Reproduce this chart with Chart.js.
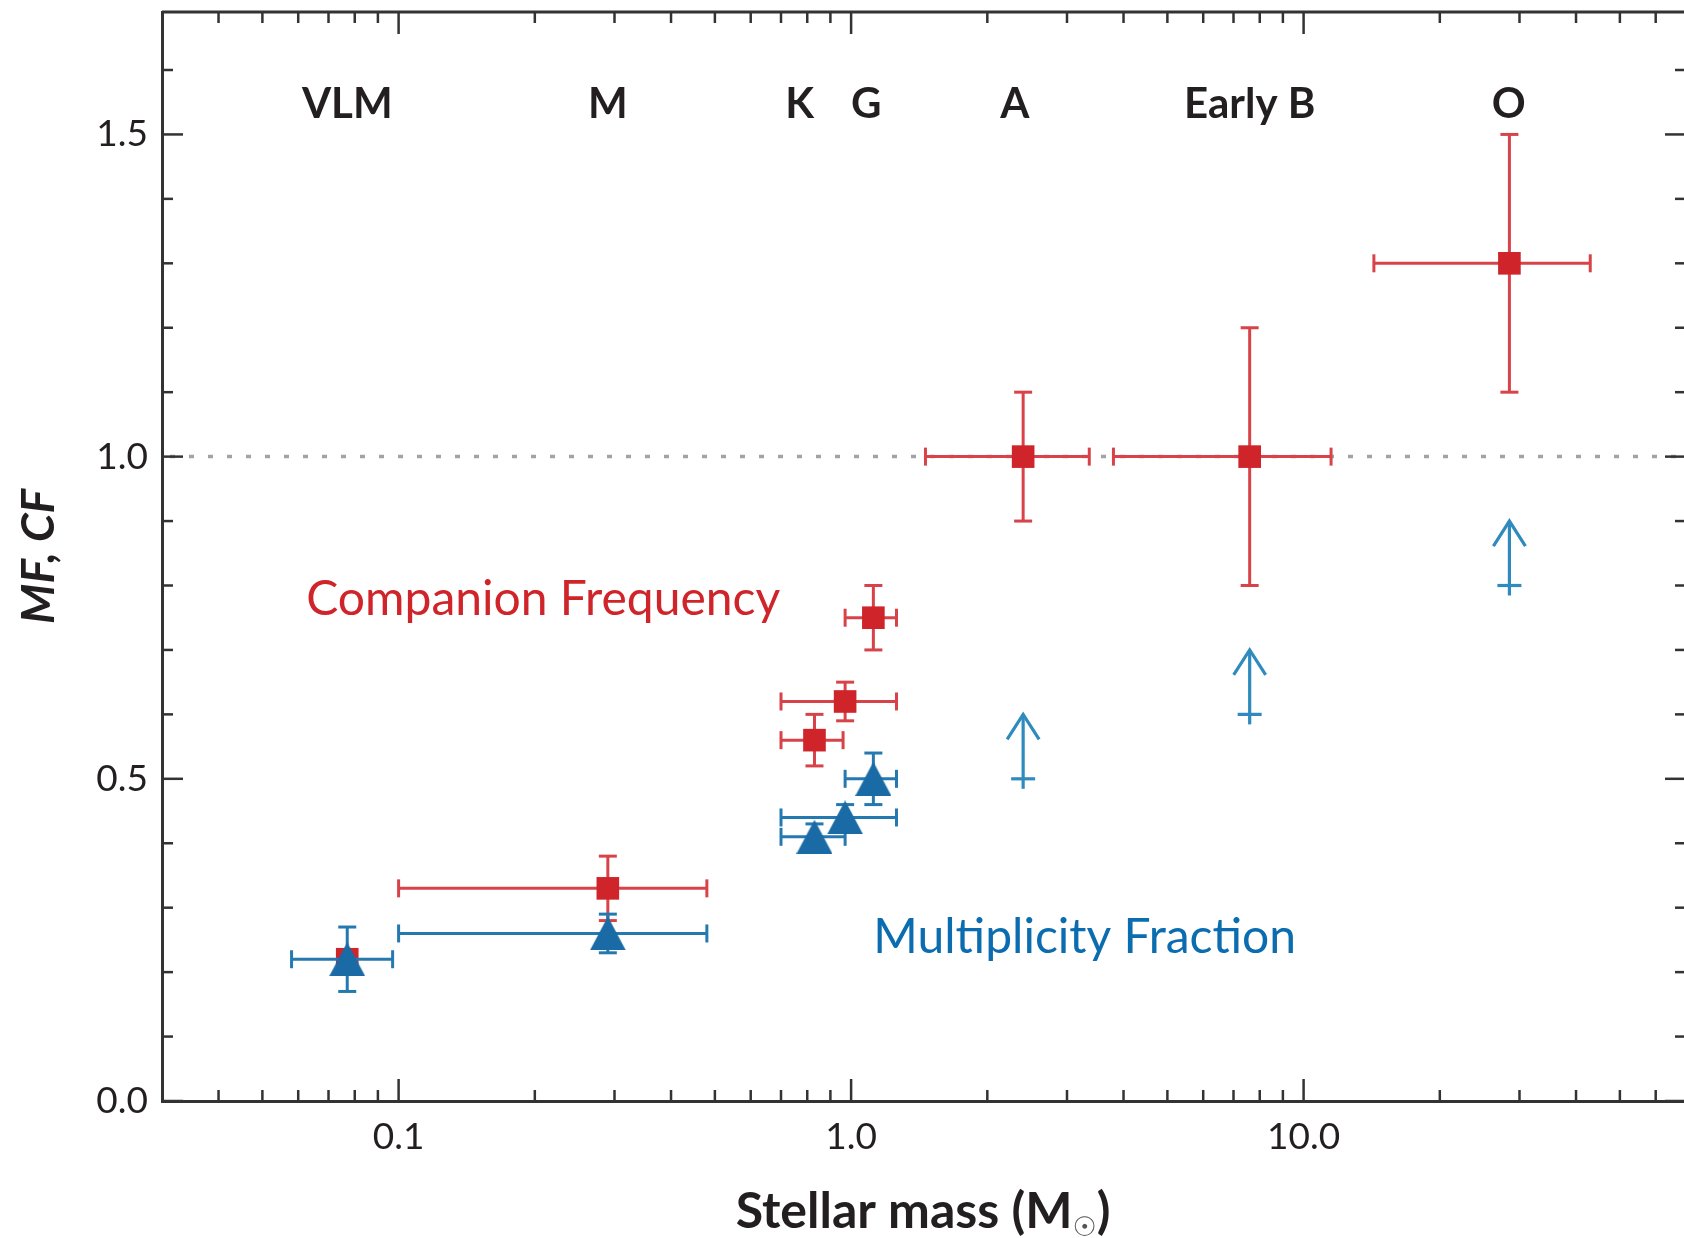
<!DOCTYPE html>
<html>
<head>
<meta charset="utf-8">
<title>Multiplicity vs stellar mass</title>
<script src="https://cdn.jsdelivr.net/npm/chart.js@4.4.1/dist/chart.umd.min.js"></script>
<style>
  html, body { margin: 0; padding: 0; background: #fff; overflow: hidden; }
  #wrap { width: 1684px; height: 1238px; overflow: hidden; }
</style>
</head>
<body>
<div id="wrap"><canvas id="chart" width="1690" height="1238"></canvas></div>
<script>
// Companion frequency (red squares)
const cfMass = [0.077, 0.29, 0.83, 0.97, 1.12, 2.4, 7.6, 28.5];
const cfValue = [0.22, 0.33, 0.56, 0.62, 0.75, 1.0, 1.0, 1.3];
const cfErrY = [null, 0.05, 0.04, 0.03, 0.05, 0.1, 0.2, 0.2];
const cfMassLow = [null, 0.1, 0.7, 0.7, 0.97, 1.46, 3.8, 14.3];
const cfMassHigh = [null, 0.48, 0.96, 1.26, 1.26, 3.36, 11.5, 43];

// Multiplicity fraction (blue triangles)
const mfMass = [0.077, 0.29, 0.83, 0.97, 1.12];
const mfValue = [0.22, 0.26, 0.41, 0.44, 0.50];
const mfErrY = [0.05, 0.03, 0.02, 0.02, 0.04];
const mfMassLow = [0.058, 0.1, 0.7, 0.7, 0.97];
const mfMassHigh = [0.097, 0.48, 0.97, 1.26, 1.26];

// MF lower limits for the massive stars (arrows)
const limMass = [2.4, 7.6, 28.5];
const limValue = [0.5, 0.6, 0.8];

// spectral type labels along the top
const typeLabels = ['VLM', 'M', 'K', 'G', 'A', 'Early B', 'O'];
const typeMass = [0.077, 0.29, 0.77, 1.08, 2.3, 7.6, 28.4];
const typeLabelY = 1.525;

// series names written in the plot
const seriesNames = ['Companion Frequency', 'Multiplicity Fraction'];
const seriesNameMass = [0.0625, 1.12];
const seriesNameY = [0.754, 0.23];

// axes
const xMajorTicks = [0.1, 1, 10];
const xTickLabels = ['0.1', '1.0', '10.0'];
const xMinorTicks = [0.04, 0.05, 0.06, 0.07, 0.08, 0.09,
  0.2, 0.3, 0.4, 0.5, 0.6, 0.7, 0.8, 0.9,
  2, 3, 4, 5, 6, 7, 8, 9,
  20, 30, 40, 50, 60, 70];
const yMajorTicks = [0, 0.5, 1.0, 1.5];
const yTickLabels = ['0.0', '0.5', '1.0', '1.5'];
const yMinorTicks = [0.1, 0.2, 0.3, 0.4, 0.6, 0.7, 0.8, 0.9,
  1.1, 1.2, 1.3, 1.4, 1.6];

const RED = '#d0242b';
const RED_LINE = '#d8434a';
const BLUE = '#1a6ba5';
const BLUE_LINE = '#2479b0';
const ARROW = '#2f8bbd';
const INK = '#231f20';

Chart.defaults.font.family = 'Lato, "DejaVu Sans", sans-serif';
Chart.defaults.color = INK;

function makeTriangle(w, h, color) {
  const c = document.createElement('canvas');
  c.width = w;
  c.height = h;
  const g = c.getContext('2d');
  g.fillStyle = color;
  g.beginPath();
  g.moveTo(w / 2, 0);
  g.lineTo(w, h);
  g.lineTo(0, h);
  g.closePath();
  g.fill();
  return c;
}

function seg(ctx, x1, y1, x2, y2) {
  ctx.beginPath();
  ctx.moveTo(x1, y1);
  ctx.lineTo(x2, y2);
  ctx.stroke();
}

// error bars drawn just before their own dataset
const errorBars = {
  id: 'errorBars',
  beforeDatasetDraw(chart, args) {
    const ds = chart.data.datasets[args.index];
    if (!ds.errors) return;
    const { ctx, scales: { x, y } } = chart;
    const cap = 9;
    ctx.save();
    ctx.strokeStyle = ds.errorColor;
    ctx.lineWidth = 3;
    ds.errors.forEach((e, i) => {
      const px = x.getPixelForValue(ds.data[i].x);
      const py = y.getPixelForValue(ds.data[i].y);
      if (e.lo != null) {
        const l = x.getPixelForValue(e.lo);
        const r = x.getPixelForValue(e.hi);
        seg(ctx, l, py, r, py);
        seg(ctx, l, py - cap, l, py + cap);
        seg(ctx, r, py - cap, r, py + cap);
      }
      if (e.dy != null) {
        const t = y.getPixelForValue(ds.data[i].y + e.dy);
        const b = y.getPixelForValue(ds.data[i].y - e.dy);
        seg(ctx, px, t, px, b);
        seg(ctx, px - cap, t, px + cap, t);
        seg(ctx, px - cap, b, px + cap, b);
      }
    });
    ctx.restore();
  }
};

// dotted line at 1.0
const unityLine = {
  id: 'unityLine',
  beforeDatasetsDraw(chart) {
    const { ctx, chartArea: a, scales: { y } } = chart;
    const py = y.getPixelForValue(1.0);
    ctx.save();
    ctx.strokeStyle = '#a3a3a3';
    ctx.lineWidth = 3.5;
    ctx.setLineDash([5, 14]);
    seg(ctx, a.left + 8, py, a.right, py);
    ctx.restore();
  }
};

// top/right frame and inward ticks on all four sides
const frame = {
  id: 'frame',
  afterDatasetsDraw(chart) {
    const { ctx, chartArea: a, scales: { x, y } } = chart;
    ctx.save();
    ctx.strokeStyle = '#333';
    ctx.lineWidth = 3;
    seg(ctx, a.left, a.top, a.right, a.top);
    seg(ctx, a.right, a.top, a.right, a.bottom);
    ctx.lineWidth = 2.5;
    const xt = (v, len) => {
      const p = x.getPixelForValue(v);
      seg(ctx, p, a.bottom, p, a.bottom - len);
      seg(ctx, p, a.top, p, a.top + len);
    };
    const yt = (v, len) => {
      const p = y.getPixelForValue(v);
      seg(ctx, a.left, p, a.left + len, p);
      seg(ctx, a.right, p, a.right - len, p);
    };
    xMinorTicks.forEach(v => xt(v, 11));
    xMajorTicks.forEach(v => xt(v, 22));
    yMinorTicks.forEach(v => yt(v, 11));
    yMajorTicks.forEach(v => yt(v, 21));
    ctx.restore();
  }
};

// lower-limit arrows, labels and x title
const annotations = {
  id: 'annotations',
  afterDatasetsDraw(chart) {
    const { ctx, scales: { x, y } } = chart;
    ctx.save();

    ctx.strokeStyle = ARROW;
    ctx.lineWidth = 3.2;
    limMass.forEach((m, i) => {
      const px = x.getPixelForValue(m);
      const p0 = y.getPixelForValue(limValue[i]);
      const p1 = y.getPixelForValue(limValue[i] + 0.1);
      seg(ctx, px, p0 + 10, px, p1);
      seg(ctx, px - 12, p0, px + 12, p0);
      ctx.beginPath();
      ctx.moveTo(px - 16, p1 + 25);
      ctx.lineTo(px, p1);
      ctx.lineTo(px + 16, p1 + 25);
      ctx.stroke();
    });

    ctx.fillStyle = INK;
    ctx.font = 'bold 42px Lato';
    ctx.textAlign = 'center';
    ctx.textBaseline = 'alphabetic';
    typeLabels.forEach((t, i) => {
      ctx.fillText(t, x.getPixelForValue(typeMass[i]), y.getPixelForValue(typeLabelY));
    });

    ctx.textAlign = 'left';
    ctx.font = '48px Lato';
    [RED, '#0b6db0'].forEach((c, i) => {
      ctx.fillStyle = c;
      ctx.fillText(seriesNames[i], x.getPixelForValue(seriesNameMass[i]), y.getPixelForValue(seriesNameY[i]));
    });
    ctx.restore();
  },
  afterDraw(chart) {
    const { ctx, chartArea: a } = chart;
    const main = 'Stellar mass (M', sun = '\u2609', close = ')';
    const base = chart.height - 10;
    ctx.save();
    ctx.fillStyle = INK;
    ctx.textBaseline = 'alphabetic';
    ctx.textAlign = 'left';
    ctx.font = 'bold 50px Lato';
    const w1 = ctx.measureText(main).width;
    const w3 = ctx.measureText(close).width;
    ctx.font = '27px "DejaVu Sans"';
    const w2 = ctx.measureText(sun).width;
    let sx = (a.left + 1684) / 2 - (w1 + w2 + w3) / 2;
    ctx.font = 'bold 50px Lato';
    ctx.fillText(main, sx, base);
    ctx.font = '27px "DejaVu Sans"';
    ctx.fillStyle = '#555';
    ctx.fillText(sun, sx + w1, base + 8);
    ctx.fillStyle = INK;
    ctx.font = 'bold 50px Lato';
    ctx.fillText(close, sx + w1 + w2, base);
    ctx.restore();
  }
};

const triangle = makeTriangle(36, 34, BLUE);

new Chart(document.getElementById('chart'), {
  type: 'scatter',
  data: {
    datasets: [
      {
        label: 'Multiplicity Fraction',
        data: mfMass.map((m, i) => ({ x: m, y: mfValue[i] })),
        errors: mfMass.map((m, i) => ({ lo: mfMassLow[i], hi: mfMassHigh[i], dy: mfErrY[i] })),
        errorColor: BLUE_LINE,
        pointStyle: triangle,
        pointRadius: 18,
        backgroundColor: BLUE,
        borderWidth: 0
      },
      {
        label: 'Companion Frequency',
        data: cfMass.map((m, i) => ({ x: m, y: cfValue[i] })),
        errors: cfMass.map((m, i) => ({ lo: cfMassLow[i], hi: cfMassHigh[i], dy: cfErrY[i] })),
        errorColor: RED_LINE,
        pointStyle: 'rect',
        pointRadius: 16,
        backgroundColor: RED,
        borderWidth: 0
      }
    ]
  },
  options: {
    responsive: false,
    animation: false,
    devicePixelRatio: 1,
    layout: { autoPadding: false, padding: { top: 12, right: 4, left: 0, bottom: 0 } },
    plugins: {
      legend: { display: false },
      tooltip: { enabled: false }
    },
    scales: {
      x: {
        type: 'logarithmic',
        min: 0.03,
        max: 70,
        grid: { display: false, drawTicks: false },
        border: { display: true, color: '#333', width: 3 },
        ticks: {
          font: { size: 37 },
          color: INK,
          padding: 14,
          maxRotation: 0,
          autoSkip: false,
          callback: (v, i) => xTickLabels[i]
        },
        afterBuildTicks: s => { s.ticks = xMajorTicks.map(v => ({ value: v })); },
        afterFit: s => { s.height = 137; s.paddingLeft = 0; s.paddingRight = 0; }
      },
      y: {
        min: 0,
        max: 1.69,
        grid: { display: false, drawTicks: false },
        border: { display: true, color: '#333', width: 3 },
        ticks: {
          font: { size: 37 },
          color: INK,
          padding: 14,
          callback: (v, i) => yTickLabels[i]
        },
        title: {
          display: true,
          text: 'MF, CF',
          color: INK,
          font: { size: 46, weight: 'bold', style: 'italic' },
          padding: { top: 12, bottom: 0 }
        },
        afterBuildTicks: s => { s.ticks = yMajorTicks.map(v => ({ value: v })); },
        afterFit: s => { s.width = 162; s.paddingTop = 0; s.paddingBottom = 0; }
      }
    }
  },
  plugins: [unityLine, errorBars, frame, annotations]
});
</script>
</body>
</html>
